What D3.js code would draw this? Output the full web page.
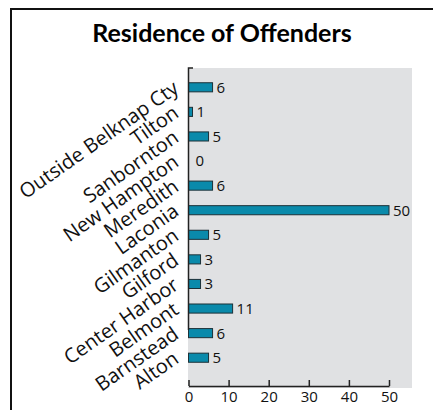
<!DOCTYPE html>
<html lang="en">
<head>
<meta charset="UTF-8">
<title>Residence of Offenders</title>
<script src="https://d3js.org/d3.v7.min.js"></script>
<style>
  body { margin: 0; background: #fff; }
  svg { display: block; }
  .title { font-family: Lato, "Open Sans", sans-serif; font-weight: bold; font-size: 25px; }
  .cat { font-family: "Open Sans", sans-serif; font-size: 20px; fill: #111; }
  .val, .tick text { font-family: "Open Sans", sans-serif; font-size: 15px; fill: #111; }
</style>
</head>
<body>
<div id="chart"></div>
<script>
// data, top to bottom as in the picture
const towns = ["Outside Belknap Cty", "Tilton", "Sanbornton", "New Hampton", "Meredith",
  "Laconia", "Gilmanton", "Gilford", "Center Harbor", "Belmont", "Barnstead", "Alton"];
const offenders = [6, 1, 5, 0, 6, 50, 5, 3, 3, 11, 6, 5];
const xTicks = [0, 10, 20, 30, 40, 50];

const W = 433, H = 410;
const svg = d3.select("#chart").append("svg")
  .attr("width", W)
  .attr("height", H);

// frame (only top and left edges show)
svg.append("path")
  .attr("d", `M11,${H + 5}V9H${W + 5}`)
  .attr("fill", "none")
  .attr("stroke", "#111")
  .attr("stroke-width", 2);

svg.append("text")
  .attr("class", "title")
  .attr("x", 222)
  .attr("y", 42)
  .attr("text-anchor", "middle")
  .text("Residence of Offenders");

const x = d3.scaleLinear().domain([0, 50]).range([188.5, 389]);
const y = d3.scaleBand().domain(towns).range([75, 370])
  .paddingInner(0.63).paddingOuter(0.315);

// plot background
svg.append("rect")
  .attr("x", 188)
  .attr("y", 68)
  .attr("width", 412 - 188)
  .attr("height", 388 - 68)
  .attr("fill", "#e0e1e3");

// bars
svg.selectAll(".bar")
  .data(offenders)
  .enter().append("rect")
  .attr("class", "bar")
  .attr("x", x(0))
  .attr("y", (d, i) => y(towns[i]))
  .attr("width", d => x(d) - x(0))
  .attr("height", y.bandwidth())
  .attr("fill", d => d > 0 ? "#0a8aab" : "none")
  .attr("stroke", d => d > 0 ? "#1c3138" : "none")
  .attr("stroke-width", 1);

// value labels
svg.selectAll(".val")
  .data(offenders)
  .enter().append("text")
  .attr("class", "val")
  .attr("x", d => x(d) + (d === 0 ? 7 : 4))
  .attr("y", (d, i) => y(towns[i]) + y.bandwidth() / 2)
  .attr("dy", "0.36em")
  .text(d => d);

// category labels, slanted
svg.selectAll(".cat")
  .data(towns)
  .enter().append("text")
  .attr("class", "cat")
  .attr("text-anchor", "end")
  .attr("transform", d => `translate(180,${y(d) + y.bandwidth() / 2 + 4}) rotate(-35)`)
  .text(d => d);

// y axis line (stops short like the original)
svg.append("path")
  .attr("d", "M193,68H188.5V330")
  .attr("fill", "none")
  .attr("stroke", "#222")
  .attr("stroke-width", 1.5);

// x axis, ticks pointing up
const xAxis = svg.append("g")
  .attr("transform", "translate(0,386)")
  .call(d3.axisBottom(x).tickValues(xTicks).tickSize(-6).tickPadding(3).tickSizeOuter(0));
xAxis.select(".domain").attr("stroke", "#222").attr("stroke-width", 1.5);
xAxis.selectAll(".tick line").attr("stroke", "#222").attr("stroke-width", 1.5);
xAxis.selectAll(".tick text").attr("dy", "0.85em");
</script>
</body>
</html>
